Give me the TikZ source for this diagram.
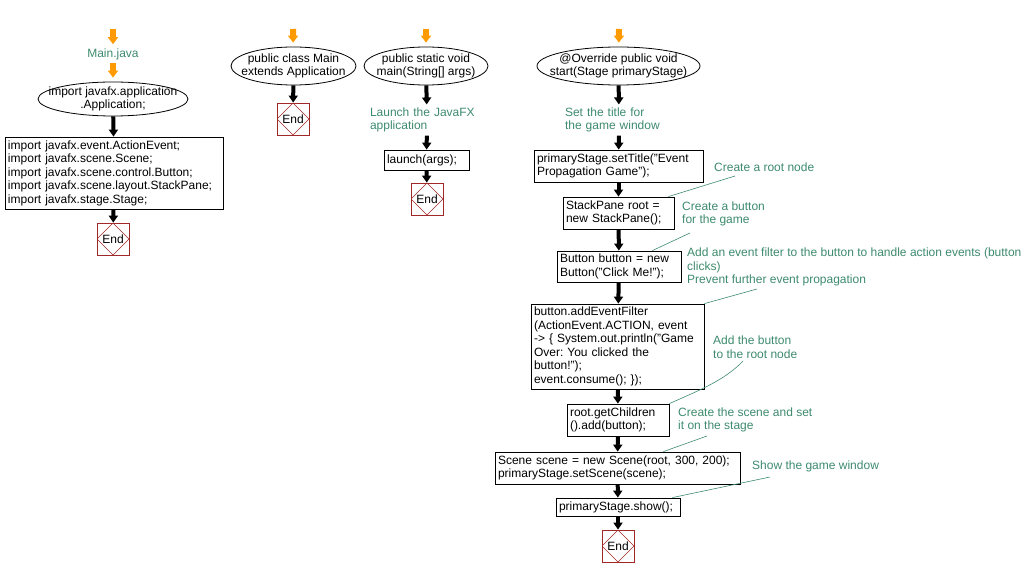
\documentclass[tikz,border=0pt]{standalone}
\usepackage{fontspec}
\setmainfont{Liberation Sans}
\usepackage{tikz}
\usetikzlibrary{arrows.meta,shapes.geometric}
\frenchspacing

\definecolor{notegreen}{RGB}{61,138,110}
\definecolor{startorange}{RGB}{255,155,0}
\definecolor{endred}{RGB}{160,40,40}

\tikzset{
  codebox/.style={draw,rectangle,align=left,inner xsep=3pt,inner ysep=2pt,line width=0.8pt},
  oval/.style={draw,ellipse,line width=0.8pt,inner sep=0pt},
  ovaltext/.style={align=center,inner sep=0pt},
  endbox/.style={draw=endred,rectangle,minimum size=32pt,inner sep=0pt,line width=0.8pt,
    path picture={\draw[endred,line width=0.5pt] (path picture bounding box.north) -- (path picture bounding box.east)
      -- (path picture bounding box.south) -- (path picture bounding box.west) -- cycle;}},
  flowtext/.style={text=notegreen,align=left,inner sep=3pt},
  note/.style={text=notegreen,align=left,inner sep=0pt,anchor=west},
  flow/.style={line width=4pt,-{Triangle[width=9pt,length=7pt]}},
  startflow/.style={draw=startorange,fill=startorange,line width=6pt,-{Triangle[width=10pt,length=7pt]},shorten >=1pt},
  noteline/.style={draw=notegreen,line width=0.6pt}
}

\begin{document}
\begin{tikzpicture}[x=1pt,y=-1pt,every node/.style={font=\fontsize{12}{13.5}\selectfont}]
\useasboundingbox (0,0) rectangle (1036,577);

% Main.java
\coordinate (s1) at (113,29);
\node[flowtext] (mainjava) at (113,54) {Main.java};
\node[oval,minimum width=150pt,minimum height=34pt] (imp) at (113,99) {};
\node[ovaltext] (impT) at (imp) {import javafx.application\\.Application;};
\node[codebox,text width=212pt,minimum height=72pt] (imports) at (114,173) {import javafx.event.ActionEvent;\\import javafx.scene.Scene;\\import javafx.scene.control.Button;\\import javafx.scene.layout.StackPane;\\import javafx.stage.Stage;};
\node[endbox] (end1) at (113,239) {End};

% class
\coordinate (s2) at (293,29);
\node[oval,minimum width=125pt,minimum height=38pt] (cls) at (293.5,66) {};
\node[ovaltext] (clsT) at (cls) {public class Main\\extends Application};
\node[endbox] (end2) at (293,119) {End};

% main
\coordinate (s3) at (426,29);
\node[oval,minimum width=124pt,minimum height=38pt] (main) at (426,66) {};
\node[ovaltext] (mainT) at (main) {public static void\\main(String[] args)};
\node[flowtext,text width=114pt] (launchnote) at (427,120) {Launch the JavaFX\\application};
\node[codebox,text width=79pt,minimum height=20pt] (launch) at (426.5,160) {launch(args);};
\node[endbox] (end3) at (427,199) {End};

% start
\coordinate (s4) at (619,29);
\node[oval,minimum width=163pt,minimum height=38pt] (start) at (618.5,66) {};
\node[ovaltext] (startT) at (start) {@Override public void\\start(Stage primaryStage)};
\node[flowtext,text width=108pt] (titlenote) at (619,120) {Set the title for\\the game window};
\node[codebox,text width=163pt,minimum height=32pt] (settitle) at (618.5,166) {primaryStage.setTitle("Event\\Propagation Game");};
\node[codebox,text width=105pt,minimum height=32pt] (stack) at (618.5,213) {StackPane root =\\new StackPane();};
\node[codebox,text width=118pt,minimum height=31pt] (button) at (619,266.5) {Button button = new\\Button("Click Me!");};
\node[codebox,text width=167pt,minimum height=85pt] (filter) at (617.5,346.5) {button.addEventFilter\\(ActionEvent.ACTION, event\\-> \{ System.out.println("Game\\Over: You clicked the\\button!");\\event.consume(); \});};
\node[codebox,text width=96pt,minimum height=32pt] (children) at (618,420) {root.getChildren\\().add(button);};
\node[codebox,text width=239pt,minimum height=32pt] (scene) at (617.5,468) {Scene scene = new Scene(root, 300, 200);\\primaryStage.setScene(scene);};
\node[codebox,text width=118pt,minimum height=18pt] (show) at (618,507) {primaryStage.show();};
\node[endbox] (end4) at (618,546) {End};

% notes
\node[note] (rootnote) at (714,167) {Create a root node};
\node[note] (buttonnote) at (682,214) {Create a button\\for the game};
\node[note] (filternote) at (687,267) {Add an event filter to the button to handle action events (button\\clicks)\\Prevent further event propagation};
\node[note] (addnote) at (713,347) {Add the button\\to the root node};
\node[note] (scenenote) at (678,420) {Create the scene and set\\it on the stage};
\node[note] (shownote) at (752,466) {Show the game window};

\coordinate (rootend) at (735,176);
\coordinate (buttonend) at (690,233);
\coordinate (filterend) at (757,289);
\coordinate (addend) at (743,361);
\coordinate (sceneend) at (707,436);
\coordinate (showend) at (770,477);

% orange entry arrows
\draw[startflow] (s1) -- (mainjava);
\draw[startflow,shorten >=4pt] (mainjava) -- (imp);
\foreach \from/\to in {s2/cls,s3/main,s4/start}
  \draw[startflow,shorten >=4pt] (\from) -- (\to);

% flow
\foreach \from/\to in {imp/imports,imports/end1,cls/end2,main/launchnote,launchnote/launch,launch/end3,
  start/titlenote,titlenote/settitle,settitle/stack,stack/button,button/filter,filter/children,
  children/scene,scene/show,show/end4}
  \draw[flow] (\from) -- (\to);

% note lines
\draw[noteline] ([xshift=-6pt]stack.north east) -- (rootend);
\draw[noteline] ([xshift=-29pt]button.north east) -- (buttonend);
\draw[noteline] (filter.north east) -- (filterend);
\draw[noteline] (children.north east) .. controls (700,390) and (725,380) .. (addend);
\draw[noteline] ([xshift=-77pt]scene.north east) -- (sceneend);
\draw[noteline] ([xshift=-8pt]show.north east) -- (showend);
\end{tikzpicture}
\end{document}
